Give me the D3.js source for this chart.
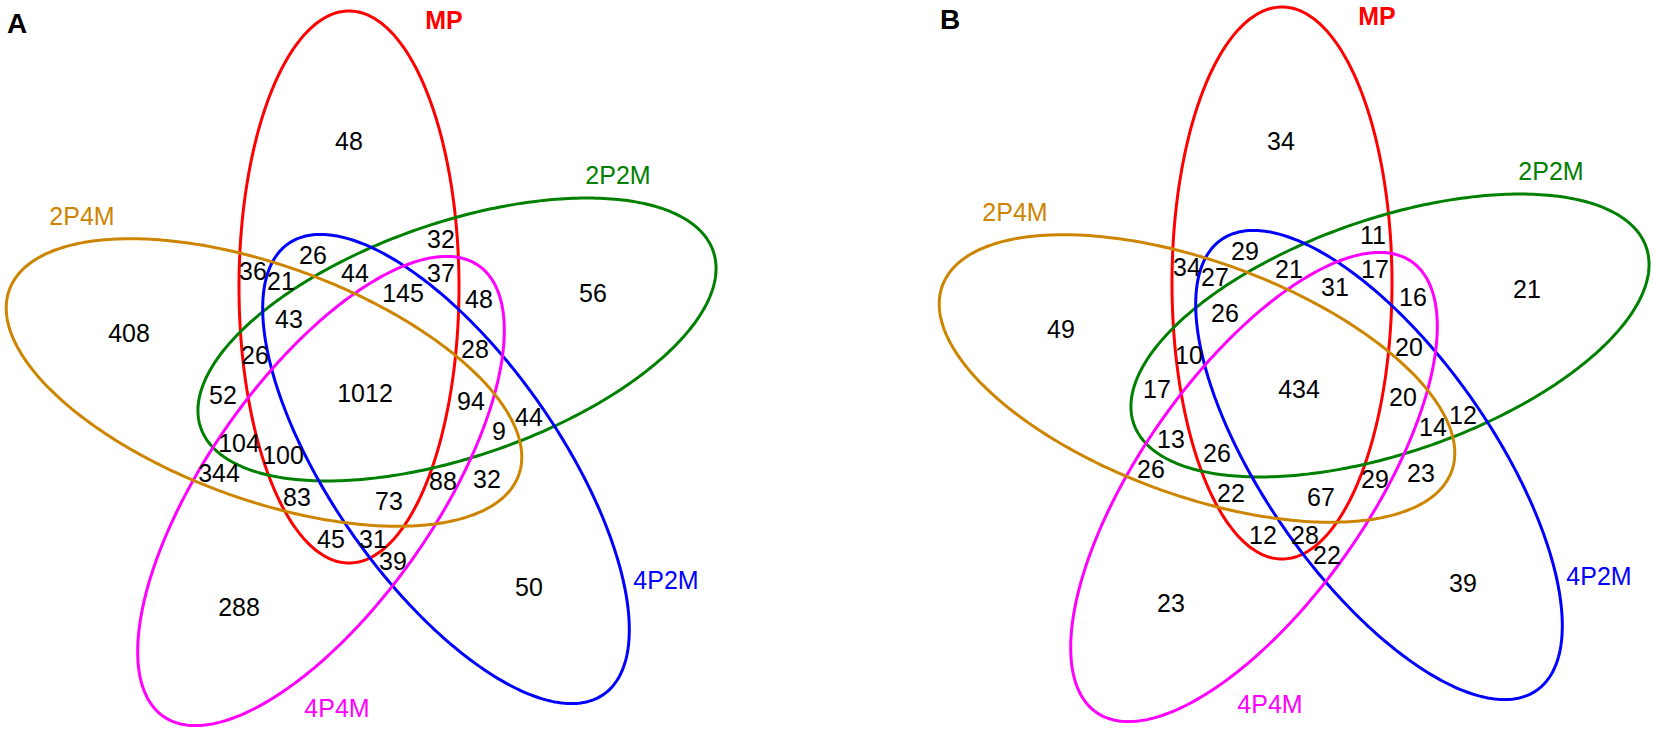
<!DOCTYPE html>
<html><head><meta charset="utf-8">
<script src="https://cdn.jsdelivr.net/npm/d3@7"></script>
<style>body{margin:0;background:#fff}svg{display:block}</style>
</head><body>
<svg id="chart" width="1655" height="735"></svg>
<script>
// ---- data ----
const setNames = ["MP", "2P2M", "4P2M", "4P4M", "2P4M"];
// membership keys, in setNames order (1 = inside that set)
const regionKeys = [
  "10000","01000","00100","00010","00001",
  "11000","10100","10010","10001","01100","01010","01001","00110","00101","00011",
  "11100","11010","11001","10110","10101","10011","01110","01101","01011","00111",
  "11110","11101","11011","10111","01111",
  "11111"
];
const valuesA = [48,56,50,288,408, 32,26,45,36,44,48,52,39,32,344, 44,37,26,31,21,83,28,9,104,88, 145,43,100,73,94, 1012];
const valuesB = [34,21,39,23,49, 11,29,12,34,12,16,17,22,23,26, 21,17,10,28,27,22,20,14,13,29, 31,26,26,67,20, 434];
const panelLetters = ["A", "B"];

// ---- styles ----
const setColors = ["#FF0000", "#008000", "#0000FF", "#FF00FF", "#CD8500"];
const FONT = "'Liberation Sans', Arial, Helvetica, sans-serif";

// ---- layout: ellipses in unit space [cx, cy, a, b, rotation(deg, y down)] ----
const ellipseLayout = [
  [0.468, 0.292, 0.552, 0.220, 90],
  [0.684, 0.397, 0.542, 0.234, -19],
  [0.662, 0.656, 0.550, 0.228, 55],
  [0.412, 0.700, 0.550, 0.228, 125],
  [0.298, 0.483, 0.542, 0.234, 20]
];
const setLabelPos = [[0.658, -0.242], [1.006, 0.068], [1.102, 0.878], [0.444, 1.134], [-0.066, 0.150]];
const letterPos = [-0.196, -0.236];
const panelLayout = [
  {x: [115, 615], y: [141, 641]},
  {x: [1048, 1548], y: [137, 637]}
];

const svg = d3.select("#chart");
const rad = Math.PI / 180;
const ells = ellipseLayout.map(e => ({cx: e[0], cy: e[1], a: e[2], b: e[3], ax: e[4] * rad}));

function inside(e, u, v) {
  const dx = u - e.cx, dy = v - e.cy;
  const p = dx * Math.cos(e.ax) + dy * Math.sin(e.ax);
  const q = -dx * Math.sin(e.ax) + dy * Math.cos(e.ax);
  return (p * p) / (e.a * e.a) + (q * q) / (e.b * e.b) <= 1;
}

// label anchor for each region: its most interior point (distance transform on a pixel grid)
function poles(xs, ys, x0, x1, y0, y1, step) {
  const nx = Math.floor((x1 - x0) / step), ny = Math.floor((y1 - y0) / step);
  const m = new Int16Array(nx * ny);
  for (let j = 0; j < ny; j++) for (let i = 0; i < nx; i++) {
    const u = xs.invert(x0 + (i + 0.5) * step), v = ys.invert(y0 + (j + 0.5) * step);
    let bits = 0;
    ells.forEach((e, k) => { if (inside(e, u, v)) bits |= (1 << k); });
    m[j * nx + i] = bits;
  }
  const D = new Float32Array(nx * ny).fill(1e9);
  for (let j = 0; j < ny; j++) for (let i = 0; i < nx; i++) {
    const id = j * nx + i, c = m[id];
    if (i === 0 || j === 0 || i === nx - 1 || j === ny - 1 ||
        m[id - 1] !== c || m[id + 1] !== c || m[id - nx] !== c || m[id + nx] !== c) D[id] = 0;
  }
  const S = Math.SQRT2;
  for (let j = 1; j < ny; j++) for (let i = 1; i < nx - 1; i++) {
    const id = j * nx + i;
    D[id] = Math.min(D[id], D[id - 1] + 1, D[id - nx] + 1, D[id - nx - 1] + S, D[id - nx + 1] + S);
  }
  for (let j = ny - 2; j >= 0; j--) for (let i = nx - 2; i >= 1; i--) {
    const id = j * nx + i;
    D[id] = Math.min(D[id], D[id + 1] + 1, D[id + nx] + 1, D[id + nx + 1] + S, D[id + nx - 1] + S);
  }
  const best = {};
  for (let j = 0; j < ny; j++) for (let i = 0; i < nx; i++) {
    const id = j * nx + i, c = m[id];
    if (!c) continue;
    if (!best[c] || D[id] > best[c].d) best[c] = {d: D[id], x: x0 + (i + 0.5) * step, y: y0 + (j + 0.5) * step};
  }
  return best;
}

panelLetters.forEach((letter, p) => {
  const L = panelLayout[p];
  const xs = d3.scaleLinear().domain([0, 1]).range(L.x);
  const ys = d3.scaleLinear().domain([0, 1]).range(L.y);
  const g = svg.append("g");
  const line = d3.line().x(d => xs(d[0])).y(d => ys(d[1])).curve(d3.curveLinearClosed);
  ells.forEach((e, k) => {
    const pts = d3.range(0, 360, 1).map(t => {
      const c = Math.cos(t * rad), s = Math.sin(t * rad);
      return [e.cx + e.a * c * Math.cos(e.ax) - e.b * s * Math.sin(e.ax),
              e.cy + e.a * c * Math.sin(e.ax) + e.b * s * Math.cos(e.ax)];
    });
    g.append("path").attr("d", line(pts)).attr("fill", "none")
      .attr("stroke", setColors[k]).attr("stroke-width", 3);
  });
  const vals = p === 0 ? valuesA : valuesB;
  const x0 = Math.max(0, xs(-0.4)), x1 = Math.min(1655, xs(1.4));
  const pl = poles(xs, ys, x0, x1, 0, 735, 2);
  regionKeys.forEach((key, r) => {
    let bits = 0;
    for (let k = 0; k < 5; k++) if (key[k] === "1") bits |= (1 << k);
    const pt = pl[bits];
    if (!pt) return;
    g.append("text").attr("transform", `translate(${pt.x},${pt.y}) scale(1,1.04)`)
      .attr("text-anchor", "middle").attr("dy", "0.36em")
      .attr("font-family", FONT).attr("font-size", 25).attr("fill", "#000")
      .text(vals[r]);
  });
  setNames.forEach((s, k) => {
    const pos = setLabelPos[k];
    g.append("text").attr("transform", `translate(${xs(pos[0])},${ys(pos[1])}) scale(1,1.04)`)
      .attr("text-anchor", "middle").attr("dy", "0.36em")
      .attr("font-family", FONT).attr("font-size", 25)
      .attr("font-weight", k === 0 ? "bold" : "normal")
      .attr("fill", setColors[k]).text(s);
  });
  g.append("text").attr("transform", `translate(${xs(letterPos[0])},${ys(letterPos[1])})`)
    .attr("text-anchor", "middle").attr("dy", "0.36em")
    .attr("font-family", FONT).attr("font-size", 28).attr("font-weight", "bold")
    .attr("fill", "#000").text(letter);
});
</script>
</body></html>
